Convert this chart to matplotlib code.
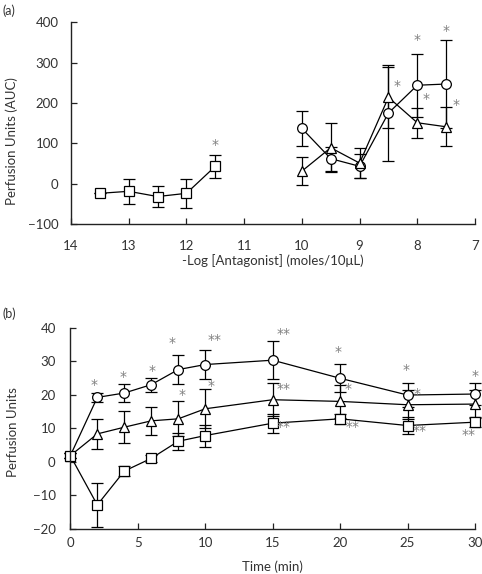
import matplotlib
matplotlib.use("Agg")
import matplotlib.pyplot as plt
import numpy as np

plt.rcParams['font.family'] = ['Lato', 'DejaVu Sans']

# ---- Panel (a) data ----
a_sq_x = [13.5, 13, 12.5, 12, 11.5]
a_sq_y = [-24, -19, -32, -24, 43]
a_sq_e = [0, 31, 27, 36, 29]

a_ci_x = [10, 9.5, 9, 8.5, 8, 7.5]
a_ci_y = [137, 62, 43, 175, 244, 247]
a_ci_e = [43, 30, 30, 118, 78, 108]

a_tr_x = [10, 9.5, 9, 8.5, 8, 7.5]
a_tr_y = [31, 89, 51, 214, 151, 141]
a_tr_e = [35, 61, 37, 76, 37, 48]

a_star_x = [11.5, 8.35, 8.0, 7.85, 7.5, 7.33]
a_star_y = [95, 241, 357, 210, 378, 196]
a_star_t = ['*', '*', '*', '*', '*', '*']

# ---- Panel (b) data ----
b_t = [0, 2, 4, 6, 8, 10, 15, 20, 25, 30]
b_ci_y = [1.8, 19.2, 20.5, 23.0, 27.5, 29.0, 30.3, 24.9, 19.9, 20.2]
b_ci_e = [0.8, 1.3, 2.6, 2.1, 4.3, 4.4, 5.6, 4.2, 3.5, 3.3]
b_tr_y = [1.8, 8.3, 10.3, 12.2, 12.8, 15.8, 18.5, 18.0, 17.0, 17.2]
b_tr_e = [0.8, 4.4, 4.7, 4.1, 5.2, 5.8, 5.0, 5.0, 4.3, 4.3]
b_sq_y = [1.8, -12.9, -2.8, 1.0, 6.1, 7.8, 11.5, 12.8, 10.8, 11.8]
b_sq_e = [0.8, 6.5, 1.5, 1.0, 2.5, 3.3, 2.8, 1.5, 2.5, 1.5]

b_star_x = [1.75, 3.93, 6.08, 7.54, 10.67, 15.8, 19.87, 24.9, 30.0,
            8.25, 10.4, 15.8, 20.6, 25.7,
            15.8, 20.9, 25.9, 29.5]
b_star_y = [22.8, 25.3, 27.2, 35.4, 36.4, 38.1, 32.7, 27.4, 25.5,
            20.0, 22.7, 21.7, 21.8, 20.2,
            10.5, 10.5, 9.1, 7.9]
b_star_t = ['*', '*', '*', '*', '**', '**', '*', '*', '*',
            '*', '*', '**', '*', '*',
            '**', '**', '**', '**']

TXT = '#333333'
STAR = '#808080'

fig = plt.figure(figsize=(4.82, 5.74), dpi=100)
axA = fig.add_axes([0.1473, 0.6098, 0.8382, 0.3513])
axB = fig.add_axes([0.1459, 0.0789, 0.8396, 0.3502])

def style(ax, xpad, ypad):
    for s in ['top', 'right']:
        ax.spines[s].set_visible(False)
    for s in ['left', 'bottom']:
        ax.spines[s].set_linewidth(1.0)
        ax.spines[s].set_color('#222222')
    ax.tick_params(direction='in', length=4, width=0.9, colors='#222222',
                   labelcolor=TXT, labelsize=9.5)
    ax.tick_params(axis='x', pad=xpad)
    ax.tick_params(axis='y', pad=ypad)

mk = dict(markerfacecolor='white', markeredgecolor='black', markeredgewidth=0.9,
          color='black', linewidth=0.9, elinewidth=0.9, capsize=4, capthick=0.9)

def stars(ax, xs, ys, ts):
    for x, y, t in zip(xs, ys, ts):
        ax.text(x, y, t, color=STAR, fontsize=10, ha='center', va='center',
                family='DejaVu Sans')

# Panel (a)
axA.errorbar(a_sq_x, a_sq_y, yerr=a_sq_e, marker='s', markersize=6.5, **mk)
axA.errorbar(a_ci_x, a_ci_y, yerr=a_ci_e, marker='o', markersize=7, **mk)
axA.errorbar(a_tr_x, a_tr_y, yerr=a_tr_e, marker='^', markersize=7.5, **mk)
stars(axA, a_star_x, a_star_y, a_star_t)
axA.set_xlim(14, 7)
axA.set_ylim(-100, 400)
axA.set_xticks(range(14, 6, -1))
axA.set_yticks(range(-100, 401, 100))
axA.set_yticklabels(['\u2212100', '0', '100', '200', '300', '400'])
style(axA, 11.5, 9)
axA.set_xlabel('-Log [Antagonist] (moles/10\u03bcL)', fontsize=9.5, color=TXT)
axA.set_ylabel('Perfusion Units (AUC)', fontsize=9.5, color=TXT)
axA.xaxis.set_label_coords(0.5, -0.150)
axA.yaxis.set_label_coords(-0.130, 0.41)
fig.text(0.005, 0.982, '(a)', fontsize=9, color=TXT, ha='left', va='center')

# Panel (b)
axB.errorbar(b_t, b_ci_y, yerr=b_ci_e, marker='o', markersize=7, **mk)
axB.errorbar(b_t, b_tr_y, yerr=b_tr_e, marker='^', markersize=7.5, **mk)
axB.errorbar(b_t, b_sq_y, yerr=b_sq_e, marker='s', markersize=6.5, **mk)
stars(axB, b_star_x, b_star_y, b_star_t)
axB.set_xlim(0, 30)
axB.set_ylim(-20, 40)
axB.set_xticks(range(0, 31, 5))
axB.set_yticks(range(-20, 41, 10))
axB.set_yticklabels(['\u221220', '\u221210', '0', '10', '20', '30', '40'])
style(axB, 6, 10.5)
axB.set_xlabel('Time (min)', fontsize=9.5, color=TXT)
axB.set_ylabel('Perfusion Units', fontsize=9.5, color=TXT)
axB.xaxis.set_label_coords(0.5, -0.160)
axB.yaxis.set_label_coords(-0.128, 0.48)
fig.text(0.005, 0.453, '(b)', fontsize=9, color=TXT, ha='left', va='center')

for ax in (axA, axB):
    for a in ax.get_children():
        try:
            a.set_clip_on(False)
        except Exception:
            pass

fig.savefig('out.png', dpi=100)
